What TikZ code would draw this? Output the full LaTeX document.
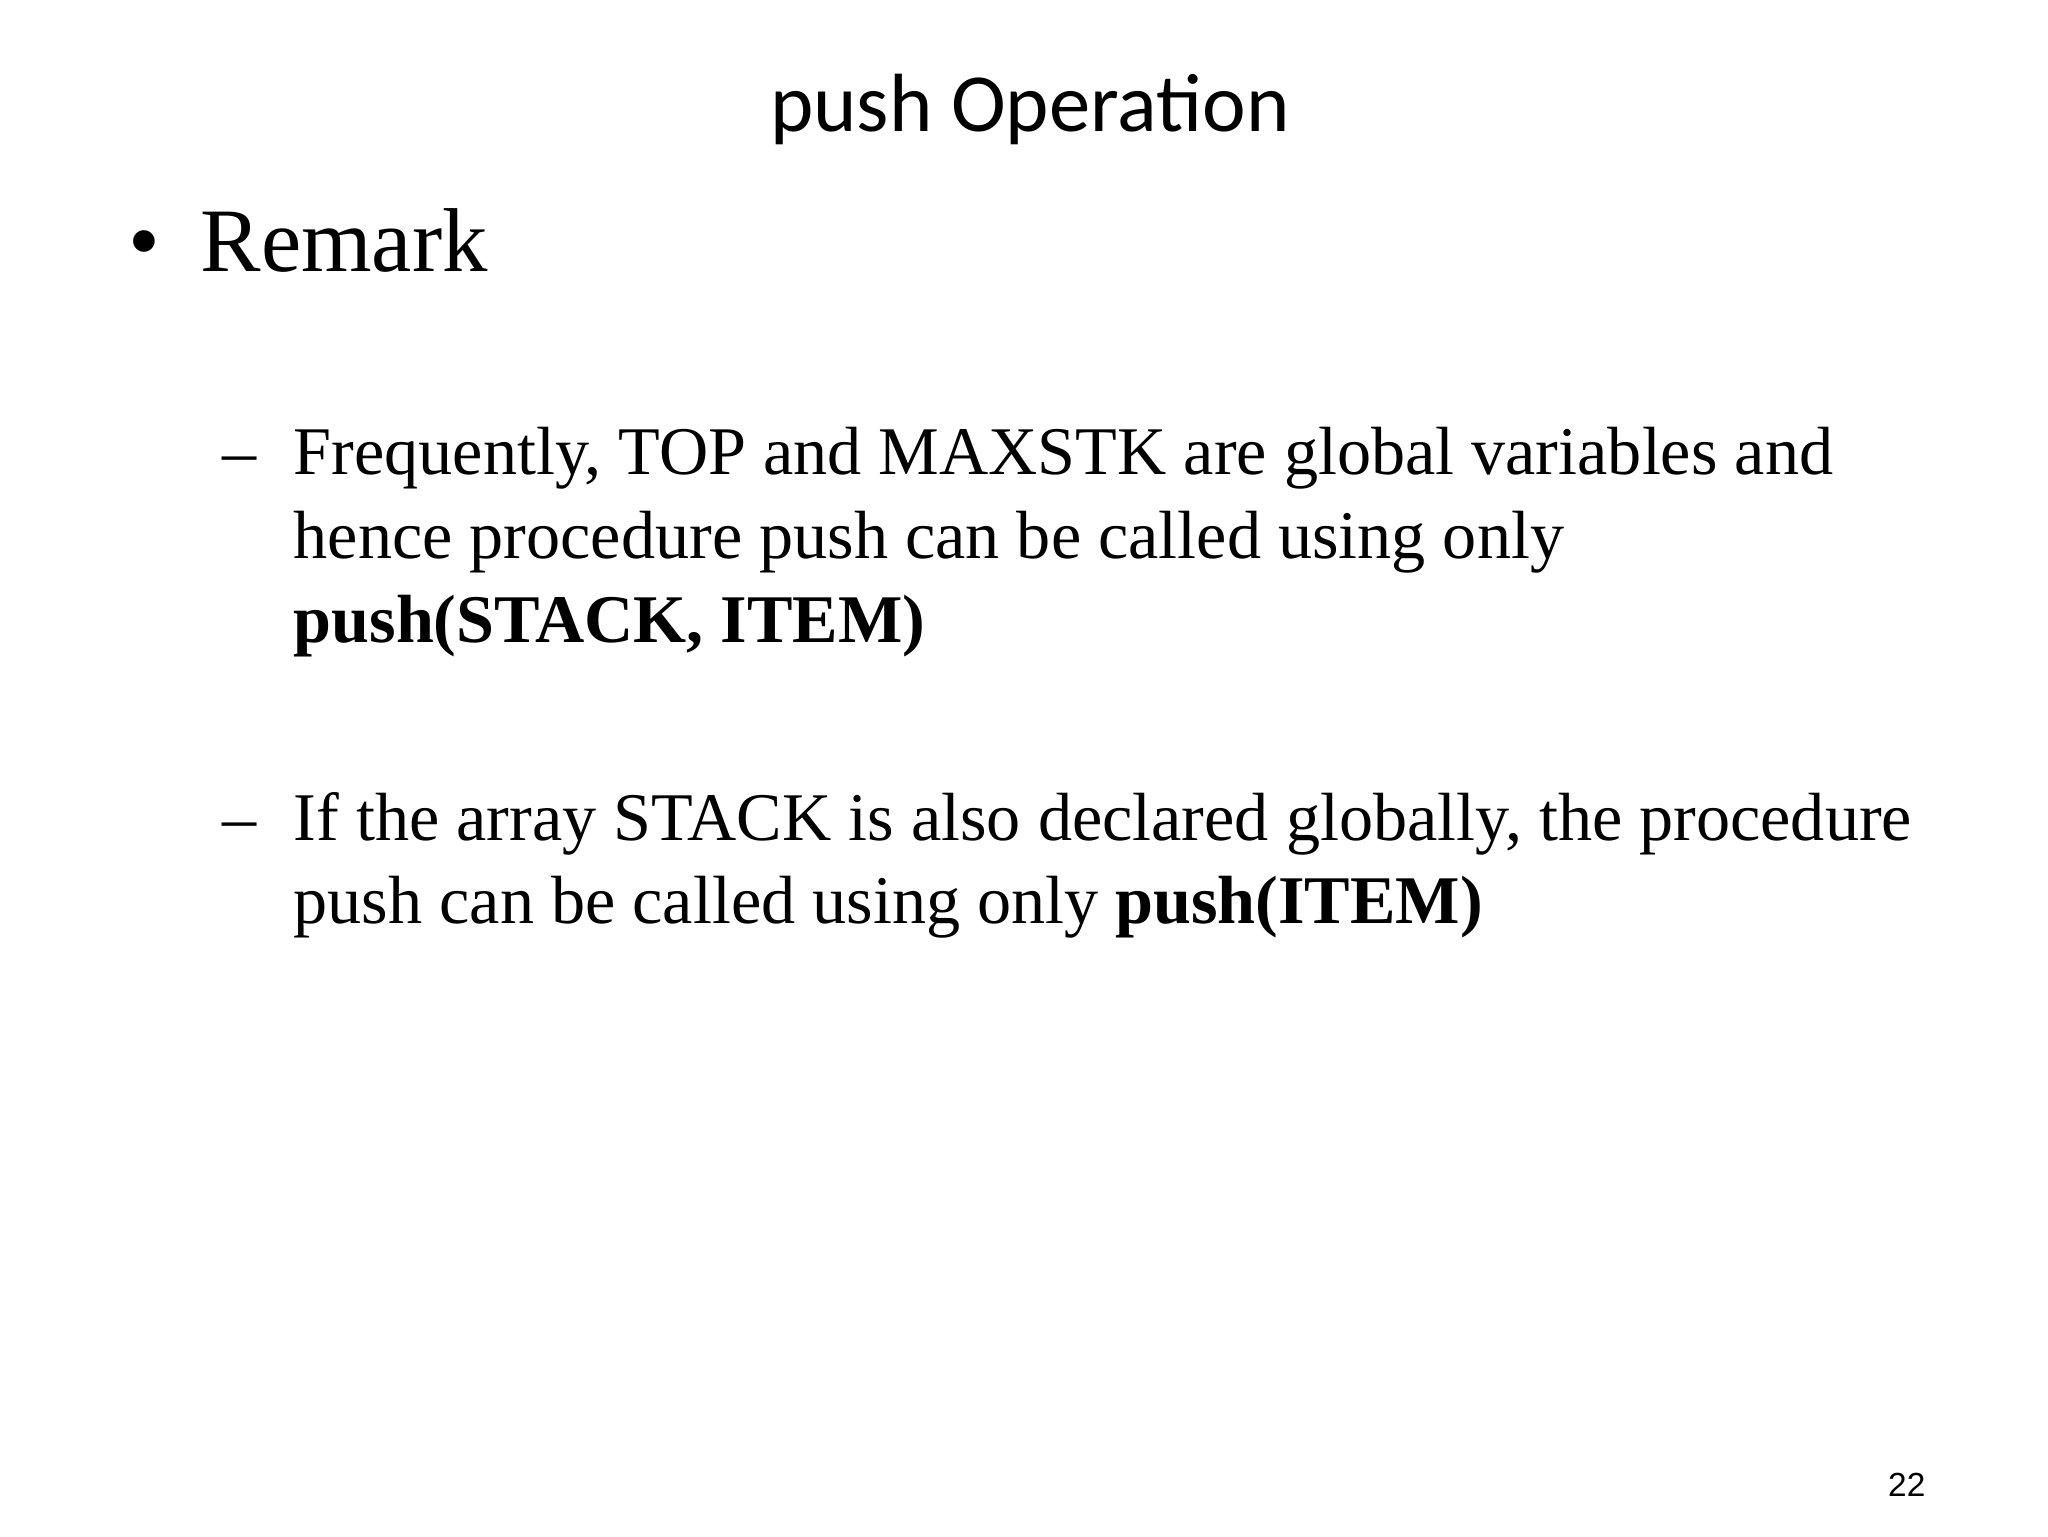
\documentclass[tikz,border=0pt]{standalone}
\usepackage{fontspec}
\setmainfont{Liberation Serif}
\newfontfamily\titlefont{Carlito}
\newfontfamily\numfont{Liberation Sans}
\begin{document}
\begin{tikzpicture}[x=0.1mm,y=-0.1mm,
  body/.style={anchor=base west,inner sep=0pt,font=\fontsize{19.4}{23}\selectfont},
  lvl/.style={anchor=base west,inner sep=0pt,font=\fontsize{25.8}{30}\selectfont}]
\useasboundingbox (0,0) rectangle (2048,1536);
\node[anchor=base,inner sep=0pt,font=\titlefont\fontsize{23.5}{27}\selectfont] (title) at (1030,131) {push Opera\kern0pt tion};
\node[lvl] (b1) at (128,271) {•};
\node[lvl] (rem) at (200,271) {Remark};
\node[body] (d1) at (222,474) {–};
\node[body] (l1) at (293,474) {Frequently, TOP and MAXSTK are global variables and};
\node[body] (l2) at (293,558) {hence procedure push can be called using only};
\node[body] (l3) at (293,642) {\textbf{push(STACK, ITEM)}};
\node[body] (d2) at (222,840) {–};
\node[body] (l4) at (293,840) {If the array STACK is also declared globally, the procedure};
\node[body] (l5) at (293,923) {push can be called using only \textbf{push(ITEM)}};
\node[anchor=base east,inner sep=0pt,font=\numfont\fontsize{9.5}{11}\selectfont] (pn) at (1926,1496) {22};
\end{tikzpicture}
\end{document}
